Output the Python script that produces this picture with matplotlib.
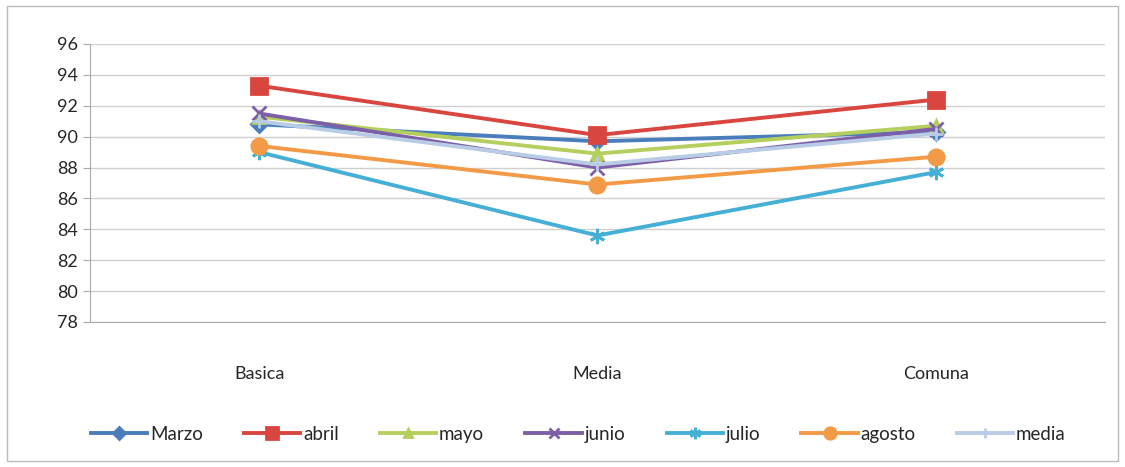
import matplotlib.pyplot as plt
from matplotlib.patches import Rectangle

categorias = ["Basica", "Media", "Comuna"]
marzo = [90.8, 89.7, 90.3]
abril = [93.3, 90.1, 92.4]
mayo = [91.3, 88.9, 90.7]
junio = [91.5, 88.0, 90.5]
julio = [89.0, 83.6, 87.7]
agosto = [89.4, 86.9, 88.7]
media = [91.0, 88.2, 90.2]
yticks = [78, 80, 82, 84, 86, 88, 90, 92, 94, 96]

plt.rcParams['font.family'] = ['Lato', 'DejaVu Sans']

fig = plt.figure(figsize=(11.25, 4.67), dpi=100)
ax = fig.add_axes([0.08, 0.3105, 0.902, 0.5953])

x = range(len(categorias))
series = [
    ("Marzo", marzo, "#4A7EBB", "D", 8),
    ("abril", abril, "#D9463F", "s", 11),
    ("mayo", mayo, "#B5CF5E", "^", 8),
    ("junio", junio, "#7D5FA8", "x", 10),
    ("julio", julio, "#46AFD6", (6, 2, 0), 11),
    ("agosto", agosto, "#F39A47", "o", 11),
    ("media", media, "#B8CCE6", "+", 10),
]
for nombre, vals, color, marker, ms in series:
    ax.plot(x, vals, color=color, linewidth=2.8, marker=marker, markersize=ms,
            markeredgewidth=2, markeredgecolor=color, markerfacecolor=color, label=nombre)

ax.set_xlim(-0.5, 2.5)
ax.set_ylim(78, 96)
ax.set_yticks(yticks)
ax.set_xticks(list(x))
ax.set_xticklabels(categorias, fontsize=13, color="#262626")
ax.tick_params(axis="x", length=0, pad=32)
ax.tick_params(axis="y", labelsize=13, labelcolor="#262626", length=5, color="#aaaaaa")
ax.yaxis.grid(True, color="#d0d0d0", linewidth=1)
ax.set_axisbelow(True)
for s in ["top", "right"]:
    ax.spines[s].set_visible(False)
ax.spines["left"].set_color("#aaaaaa")
ax.spines["bottom"].set_color("#aaaaaa")

fig.legend(loc="center", bbox_to_anchor=(0.514, 0.07), ncol=7, frameon=False,
           fontsize=13.5, handlelength=3.0, handletextpad=0.15, columnspacing=2.2,
           markerscale=0.75, labelcolor="#262626")

fig.patches.append(Rectangle((0.006, 0.012), 0.988, 0.975, transform=fig.transFigure,
                             fill=False, edgecolor="#bbbbbb", linewidth=1))

plt.savefig("out.png", dpi=100)
